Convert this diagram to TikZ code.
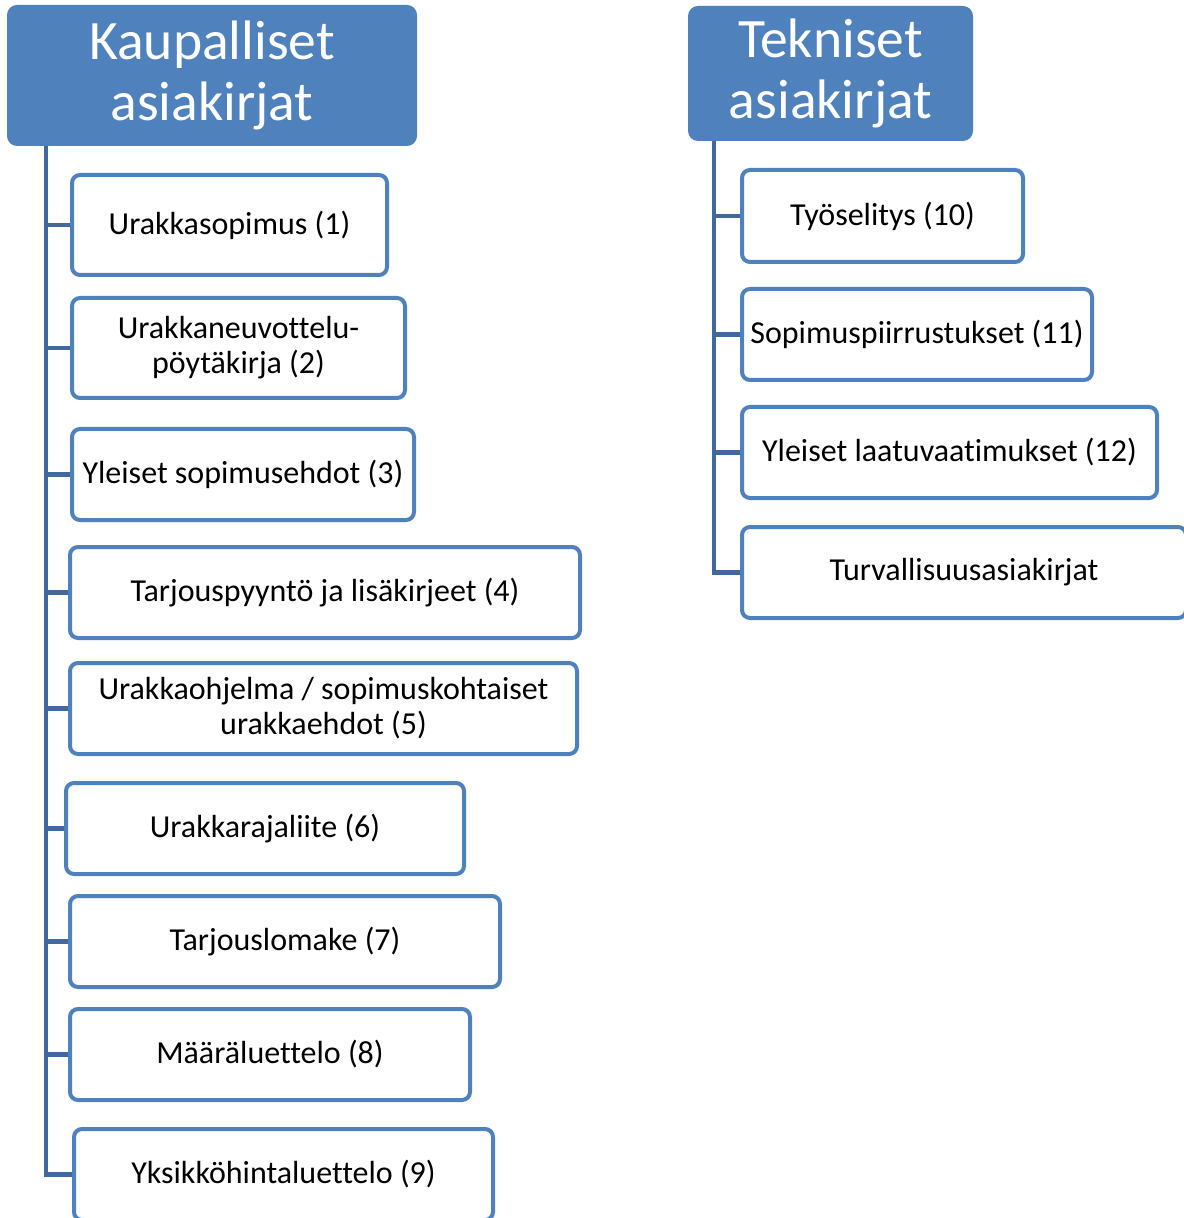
\documentclass[tikz,border=0pt]{standalone}
\usepackage{fontspec}
\setmainfont[Ligatures=NoCommon]{Carlito}
\usepackage{tikz}
\usetikzlibrary{positioning}
\definecolor{headblue}{HTML}{4F81BD}
\definecolor{trunkblue}{HTML}{41699B}
\tikzstyle{line} = [draw, line width=2.2pt, trunkblue]

\begin{document}
\begin{tikzpicture}[x=0.5pt, y=-0.5pt,
                head/.style = {fill=headblue, rounded corners=5pt, text=white,
                  font=\fontsize{27.8}{30.5}\selectfont, align=center, inner sep=0pt},
                leaf/.style = {draw=headblue, line width=2pt, fill=white,
                  rounded corners=4pt, font=\fontsize{16}{17.5}\selectfont,
                  align=center, inner sep=0pt, anchor=west, minimum height=45.5pt}]
                \useasboundingbox (0,0) rectangle (1183,1218);
                % kaupalliset
                \node[head, minimum width=205pt, minimum height=70.5pt] (kaup) at (212,75.5) {Kaupalliset\\asiakirjat};
                \node[leaf, minimum width=157.5pt, minimum height=50pt] (l1) at (70,225) {Urakkasopimus (1)};
                \node[leaf, minimum width=166.5pt, minimum height=50pt] (l2) at (70,348) {Urakkaneuvottelu-\\pöytäkirja (2)};
                \node[leaf, minimum width=171pt] (l3) at (70,474.5) {Yleiset sopimusehdot (3)};
                \node[leaf, minimum width=255pt] (l4) at (68,592.5) {Tarjouspyyntö ja lisäkirjeet (4)};
                \node[leaf, minimum width=253.5pt] (l5) at (68,708.5) {Urakkaohjelma / sopimuskohtaiset\\urakkaehdot (5)};
                \node[leaf, minimum width=199pt] (l6) at (64,828.5) {Urakkarajaliite (6)};
                \node[leaf, minimum width=215pt] (l7) at (68,941.5) {Tarjouslomake (7)};
                \node[leaf, minimum width=200pt] (l8) at (68,1054.5) {Määräluettelo (8)};
                \node[leaf, minimum width=209.5pt] (l9) at (72,1174.5) {Yksikköhintaluettelo (9)};
                \coordinate (kt) at (46,146);
                \path[line] (kt) |- (l9.west);
                \foreach \n in {l1,l2,l3,l4,l5,l6,l7,l8}
                  \path[line] (kt |- \n.west) -- (\n.west);
                % tekniset
                \node[head, minimum width=142.5pt, minimum height=67.5pt] (tekn) at (830.5,73.5) {Tekniset\\asiakirjat};
                \node[leaf, minimum width=140.5pt, minimum height=46pt] (r1) at (740,216) {Työselitys (10)};
                \node[leaf, minimum width=175pt] (r2) at (740,334.5) {Sopimuspiirrustukset (11)};
                \node[leaf, minimum width=207.5pt] (r3) at (740,452.5) {Yleiset laatuvaatimukset (12)};
                \node[leaf, minimum width=222pt] (r4) at (740,572.5) {Turvallisuusasiakirjat};
                \coordinate (tt) at (714,141);
                \path[line] (tt) |- (r4.west);
                \foreach \n in {r1,r2,r3}
                  \path[line] (tt |- \n.west) -- (\n.west);
\end{tikzpicture}
\end{document}
